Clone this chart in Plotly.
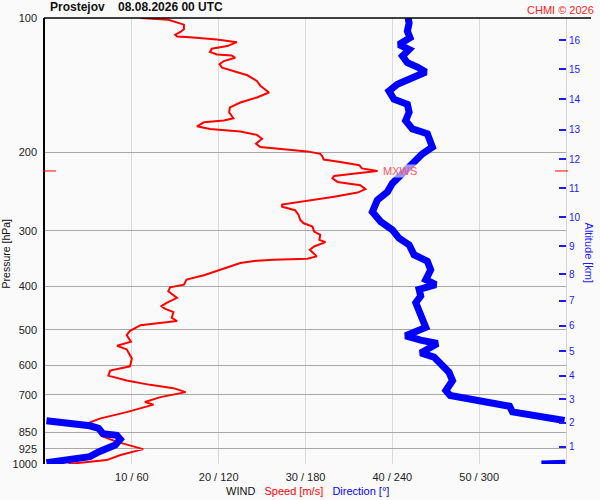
import math
import plotly.graph_objects as go

# Sondaz Prostejov 08.08.2026 00 UTC - rychlost a smer vetru
pressure_speed = [1000, 980, 955, 926, 892, 869, 840, 815, 791, 765, 736, 726, 708, 690, 676, 664.6,
                  650, 633.6, 617.5, 604, 580, 553, 543.3, 532, 514, 503, 488.5, 482, 477.9, 470,
                  456.2, 448.4, 442.5, 435.1, 424.2, 409.8, 401.7, 396.2, 385.9, 377.5, 366.6, 354.2,
                  350, 348.2, 346.5, 342.4, 330.9, 325.3, 318, 314.3, 306.4, 301.2, 293.6, 288.6,
                  283.7, 276.4, 269.7, 265, 261.9, 257.4, 251.7, 246.3, 241.9, 237, 233.1, 228.7,
                  226, 222.9, 220.3, 217.4, 213.9, 210.3, 207.6, 203.6, 201.6, 199.1, 196.4, 194.7,
                  191.4, 186.6, 182.8, 179.7, 177.3, 174.9, 171.3, 169.8, 167.8, 162.7, 158.6, 154.7,
                  150.7, 146.9, 141.9, 138.4, 134.4, 131.4, 129.2, 127, 124.9, 122.8, 121.3, 120.7,
                  119.2, 117.2, 115.6, 113.3, 111.8, 110.4, 110, 109, 107.5, 106, 103.5, 100.9, 100]
speed = [2.7, 7.1, 8.7, 11.3, 8.3, 6.7, 6.3, 4.6, 6.3, 9.4, 12.5, 11.5, 13.3, 16.2, 14.8, 12.1,
         9.4, 7.3, 7.5, 9.8, 10.0, 9.4, 8.3, 9.9, 9.4, 9.8, 11.0, 14.0, 15.2, 14.6,
         14.8, 13.8, 13.4, 14.0, 15.2, 14.2, 14.4, 16.0, 16.3, 18.3, 20.2, 22.5,
         24.4, 26.3, 30.2, 31.3, 30.5, 31.0, 32.3, 31.6, 31.7, 31.0, 30.8, 29.8,
         29.4, 29.2, 28.8, 27.3, 27.3, 30.2, 33.3, 36.0, 36.9, 36.3, 33.7, 33.1,
         33.3, 36.0, 38.3, 36.5, 36.2, 34.0, 32.1, 31.9, 31.7, 30.2, 27.1, 24.8,
         24.3, 25.0, 24.4, 22.5, 19.0, 17.5, 18.3, 20.6, 21.7, 21.2, 21.3, 22.5,
         24.4, 25.8, 24.8, 24.4, 23.3, 21.7, 20.4, 20.1, 20.6, 21.9, 21.5, 19.8,
         19.0, 19.2, 21.0, 22.1, 19.8, 16.7, 15.2, 15.0, 15.6, 16.0, 16.0, 14.2, 11.0]

pressure_dir = [1000, 998, 996, 994, 990, 980, 963, 940, 925, 907, 880, 862, 855, 832, 821, 808, 800,
                799, 786, 775, 764, 742, 731, 720, 702, 684, 661, 650, 623, 595, 575.8, 563.6,
                553, 536.7, 527.5, 516, 494, 470, 450, 435, 420, 406, 396, 386, 367, 351, 339.5,
                322.5, 311.6, 298.6, 286, 272, 256, 245.4, 235, 225.3, 212.1, 201.6, 194.7, 186.6,
                181.8, 177.3, 169.9, 162.7, 156.1, 152.1, 145.8, 140.8, 136, 132.1, 128.8, 126,
                121.7, 117.6, 114.7, 110.8, 107, 102.6, 100]
direction = [343, 352, 359.5, 1, 5, 15, 31, 37, 43, 48.5, 52, 49.6, 40, 37, 31, 15, 1,
             359, 343, 329, 323, 321, 310, 296.5, 280, 277, 280, 281.6, 279.2, 273.5, 268.8, 259.6,
             264.2, 271.2, 259.6, 249.2, 263.1, 260.8, 258.5, 256.2, 259.6, 258.5, 270, 263.1, 266.5, 264.2, 255,
             251.6, 244.6, 240, 231.9, 226.2, 229.6, 236.6, 240, 245.8, 253.9, 260.8, 267.7, 266.1,
             264.2, 253.9, 249.2, 251.6, 250.4, 241.1, 237.7, 243.5, 252.7, 263.1, 257.3, 250.4,
             247, 251.6, 244.6, 252.2, 250.4, 251.6, 250.9]

pressure_ticks = [100, 200, 300, 400, 500, 600, 700, 850, 925, 1000]
speed_ticks = [10, 20, 30, 40, 50]
speed_labels = ["10 / 60", "20 / 120", "30 / 180", "40 / 240", "50 / 300"]
altitude_km = [str(k) for k in range(1, 17)]
altitude_pressure = [915, 809, 716, 634.5, 559, 490, 430, 375, 325, 280, 241, 207.5, 178, 152, 130.3, 112.1]

FONT = "Liberation Sans, Arial, sans-serif"

# prerusit caru smeru pri preskoku 360 -> 0
dir_x, dir_y = [], []
for i, (d, p) in enumerate(zip(direction, pressure_dir)):
    if i > 0 and abs(d - direction[i - 1]) > 180:
        dir_x.append(None)
        dir_y.append(None)
    dir_x.append(d)
    dir_y.append(p)

# maximalni rychlost vetru (MXWS)
imax = speed.index(max(speed))
mxws_p = pressure_speed[imax]
mxws_v = speed[imax]

fig = go.Figure()
fig.add_trace(go.Scatter(x=dir_x, y=dir_y, xaxis="x2", yaxis="y2", mode="lines",
                         line=dict(color="#0000ff", width=7), hoverinfo="skip"))
fig.add_trace(go.Scatter(x=speed, y=pressure_speed, mode="lines",
                         line=dict(color="#ff0000", width=2), hoverinfo="skip"))

fig.update_layout(
    width=600, height=500, showlegend=False,
    margin=dict(l=45, r=34, t=15, b=36, pad=0),
    paper_bgcolor="#fafafa", plot_bgcolor="#fafafa",
    font=dict(family=FONT, size=11, color="#222222"),
    title=dict(text="<b>Prostejov&nbsp;&nbsp;&nbsp;&nbsp;08.08.2026 00 UTC</b>", x=50 / 600, y=1 - 7 / 500,
               xref="container", yref="container", xanchor="left", yanchor="middle",
               font=dict(family=FONT, size=12, color="#111111")),
    xaxis=dict(range=[0, 60], tickvals=speed_ticks, ticktext=speed_labels, showgrid=True,
               gridcolor="#dadada", gridwidth=1, zeroline=False, showline=False, ticks="",
               ticklabelstandoff=5, tickfont=dict(size=11)),
    xaxis2=dict(range=[0, 360], overlaying="x", anchor="y2", visible=False),
    yaxis=dict(type="log", range=[3, 2], tickvals=pressure_ticks, ticktext=[str(p) for p in pressure_ticks],
               showgrid=True, gridcolor="#a8a8a8", gridwidth=1, zeroline=False, showline=True,
               linecolor="#000000", linewidth=1.5, ticks="", ticklabelstandoff=4, tickfont=dict(size=11)),
    yaxis2=dict(type="log", range=[3, 2], overlaying="y", side="right", anchor="x2",
                tickvals=altitude_pressure, ticktext=altitude_km, showgrid=False, zeroline=False,
                showline=True, linecolor="#d4d4d4", linewidth=1, ticks="inside", ticklen=7,
                tickcolor="#1a1aff", tickwidth=1.5, tickfont=dict(size=10, color="#1a1aff")),
    shapes=[
        dict(type="line", xref="paper", yref="paper", x0=-0.002, x1=1.048, y0=1, y1=1,
             line=dict(color="#000000", width=1.5)),
        dict(type="line", xref="paper", yref="y", x0=-0.004, x1=0.021, y0=mxws_p, y1=mxws_p,
             line=dict(color="#ff0000", width=1)),
        dict(type="line", xref="paper", yref="y", x0=0.979, x1=1.004, y0=mxws_p, y1=mxws_p,
             line=dict(color="#ff0000", width=1)),
    ],
    annotations=[
        dict(text="MXWS", x=mxws_v, y=math.log10(mxws_p), xref="x", yref="y", xanchor="left",
             yanchor="middle", xshift=4, showarrow=False, bgcolor="rgba(250,250,250,0.6)", borderpad=0,
             font=dict(size=11, color="#ff5555")),
        dict(text="CHMI © 2026", x=1.0576, y=1 + 8 / 449, xref="paper", yref="paper",
             xanchor="right", yanchor="middle", showarrow=False, font=dict(size=11, color="#ff2020")),
        dict(text="Pressure [hPa]", x=-0.073, y=0.472, xref="paper", yref="paper", textangle=-90,
             xanchor="center", yanchor="middle", showarrow=False, font=dict(size=10.5, color="#111111")),
        dict(text="Altitude [km]", x=1.044, y=0.472, xref="paper", yref="paper", textangle=90,
             xanchor="center", yanchor="middle", showarrow=False, font=dict(size=11, color="#1a1aff")),
        dict(text="WIND&nbsp;&nbsp;&nbsp;<span style='color:#ff0000'>Speed [m/s]</span>"
                  "&nbsp;&nbsp;&nbsp;<span style='color:#0000ff'>Direction [°]</span>",
             x=0.503, y=-0.060, xref="paper", yref="paper", xanchor="center", yanchor="middle",
             showarrow=False, font=dict(size=11, color="#111111")),
    ],
)

fig.write_html("out.html", config={"displayModeBar": False},
               post_script="document.body.style.margin='0';")
